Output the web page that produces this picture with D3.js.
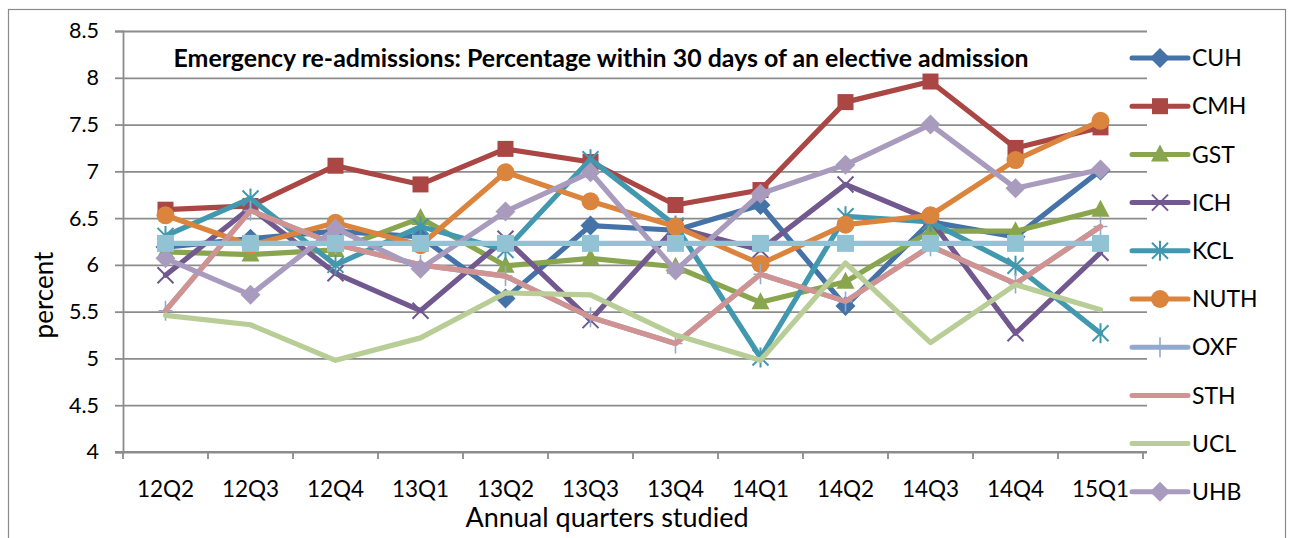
<!DOCTYPE html>
<html>
<head>
<meta charset="utf-8">
<script src="https://cdn.jsdelivr.net/npm/d3@7"></script>
<style>
  body { margin: 0; background: #fff; }
  svg { display: block; font-family: Lato, "Open Sans", sans-serif; }
</style>
</head>
<body>
<div class="gv-chart"></div>
<script>
// quarters on the x axis
var quarters = ["12Q2","12Q3","12Q4","13Q1","13Q2","13Q3","13Q4","14Q1","14Q2","14Q3","14Q4","15Q1"];

// percent re-admitted, one list per trust
var CUH  = [6.19, 6.28, 6.36, 6.30, 5.64, 6.42, 6.37, 6.64, 5.56, 6.46, 6.30, 7.01];
var CMH  = [6.59, 6.63, 7.06, 6.86, 7.24, 7.10, 6.64, 6.80, 7.74, 7.96, 7.25, 7.47];
var GST  = [6.14, 6.11, 6.16, 6.50, 5.99, 6.07, 5.98, 5.60, 5.82, 6.36, 6.36, 6.59];
var ICH  = [5.89, 6.61, 5.91, 5.51, 6.28, 5.41, 6.40, 6.16, 6.86, 6.48, 5.27, 6.13];
var KCL  = [6.31, 6.71, 6.00, 6.41, 6.16, 7.13, 6.42, 5.01, 6.52, 6.46, 5.99, 5.27];
var NUTH = [6.53, 6.21, 6.45, 6.21, 6.99, 6.68, 6.41, 6.01, 6.43, 6.53, 7.12, 7.54];
var OXF  = [5.51, 6.58, 6.22, 6.00, 5.88, 5.44, 5.16, 5.90, 5.61, 6.20, 5.80, 6.41];
var STH  = [5.51, 6.58, 6.22, 6.00, 5.88, 5.44, 5.16, 5.90, 5.61, 6.20, 5.80, 6.41];
var UCL  = [5.46, 5.36, 4.98, 5.22, 5.70, 5.68, 5.25, 4.98, 6.02, 5.17, 5.79, 5.52];
var UHB  = [6.07, 5.68, 6.39, 5.96, 6.57, 6.99, 5.94, 6.76, 7.07, 7.50, 6.82, 7.02];
var ALL  = [6.23, 6.23, 6.23, 6.23, 6.23, 6.23, 6.23, 6.23, 6.23, 6.23, 6.23, 6.23];

var yTicks = [4, 4.5, 5, 5.5, 6, 6.5, 7, 7.5, 8, 8.5];

var series = [
  {name: "CUH",  values: CUH,  color: "#4572A7", marker: "diamond",  legend: true},
  {name: "CMH",  values: CMH,  color: "#AA4643", marker: "square",   legend: true},
  {name: "GST",  values: GST,  color: "#89A54E", marker: "triangle", legend: true},
  {name: "ICH",  values: ICH,  color: "#71588F", marker: "x",        legend: true},
  {name: "KCL",  values: KCL,  color: "#4198AF", marker: "star",     legend: true},
  {name: "NUTH", values: NUTH, color: "#DB843D", marker: "circle",   legend: true},
  {name: "OXF",  values: OXF,  color: "#93A9CF", marker: "plus",     legend: true},
  {name: "STH",  values: STH,  color: "#D19392", marker: "none",     legend: true},
  {name: "UCL",  values: UCL,  color: "#B9CD96", marker: "none",     legend: true},
  {name: "UHB",  values: UHB,  color: "#A99BBD", marker: "diamond",  legend: true},
  {name: "",     values: ALL,  color: "#92C3D5", marker: "bigsquare", legend: false}
];

var W = 1291, H = 538;
var plot = {left: 123, right: 1143, top: 31, bottom: 452};

var svg = d3.select(".gv-chart").append("svg").attr("width", W).attr("height", H);

// chart border
svg.append("rect")
  .attr("x", 8.5).attr("y", 9.5).attr("width", 1277).attr("height", 560)
  .attr("fill", "none").attr("stroke", "#8a8a8a").attr("stroke-width", 1.2);

var xBand = d3.scaleBand().domain(quarters).range([plot.left, plot.right]);
var x = function(q) { return xBand(q) + xBand.bandwidth() / 2; };
var y = d3.scaleLinear().domain([4, 8.5]).range([plot.bottom, plot.top]);

var grid = "#8c8c8c";

// gridlines + y axis
var gy = svg.append("g").attr("class", "axis axis--y")
  .attr("transform", "translate(" + plot.left + ",0)")
  .call(d3.axisLeft(y).tickValues(yTicks).tickSize(8).tickPadding(16).tickFormat(d3.format("")));
gy.select(".domain").attr("stroke", grid).attr("stroke-width", 1.8);
gy.selectAll(".tick line").attr("stroke", grid).attr("stroke-width", 1.8);
gy.selectAll(".tick text").attr("font-size", 21.5).attr("fill", "#000").attr("font-family", "Lato");
gy.selectAll(".tick").append("line")
  .attr("x1", 0).attr("x2", plot.right + 4 - plot.left)
  .attr("stroke", grid).attr("stroke-width", 1.8);

// x axis with ticks between categories
var gx = svg.append("g").attr("class", "axis axis--x")
  .attr("transform", "translate(0," + plot.bottom + ")")
  .call(d3.axisBottom(xBand).tickSize(0).tickPadding(29));
gx.select(".domain").remove();
gx.selectAll(".tick text").attr("font-size", 22.5).attr("fill", "#000").attr("font-family", "Lato");
gx.append("line").attr("x1", plot.left - 8).attr("x2", plot.right + 4)
  .attr("stroke", grid).attr("stroke-width", 1.8);
gx.selectAll(".sep")
  .data(quarters.map(function(q) { return xBand(q); }).concat([plot.right]))
  .enter().append("line")
  .attr("x1", function(d) { return d; }).attr("x2", function(d) { return d; })
  .attr("y1", 0).attr("y2", 7)
  .attr("stroke", grid).attr("stroke-width", 1.8);

// titles
svg.append("text")
  .attr("x", 601).attr("y", 67)
  .attr("text-anchor", "middle").attr("font-weight", "bold").attr("font-size", 24)
  .attr("textLength", 855).attr("lengthAdjust", "spacingAndGlyphs")
  .text("Emergency re-admissions: Percentage within 30 days of an elective admission");

svg.append("text")
  .attr("transform", "translate(53,295) rotate(-90)")
  .attr("text-anchor", "middle").attr("font-size", 26)
  .text("percent");

svg.append("text")
  .attr("x", 607).attr("y", 527)
  .attr("text-anchor", "middle").attr("font-size", 27)
  .text("Annual quarters studied");

// marker drawing
function drawMarker(sel, type, color) {
  if (type == "diamond") {
    sel.append("path").attr("d", "M0,-10L10,0L0,10L-10,0Z").attr("fill", color);
  } else if (type == "square") {
    sel.append("rect").attr("x", -8).attr("y", -8).attr("width", 16).attr("height", 16).attr("fill", color);
  } else if (type == "bigsquare") {
    sel.append("rect").attr("x", -8.5).attr("y", -8.5).attr("width", 17).attr("height", 17).attr("fill", color);
  } else if (type == "triangle") {
    sel.append("path").attr("d", "M0,-10L9,7L-9,7Z").attr("fill", color);
  } else if (type == "circle") {
    sel.append("circle").attr("r", 9).attr("fill", color);
  } else if (type == "x") {
    sel.append("path").attr("d", "M-8,-8L8,8M-8,8L8,-8").attr("stroke", color).attr("stroke-width", 2);
  } else if (type == "star") {
    sel.append("path").attr("d", "M-8,-8L8,8M-8,8L8,-8M0,-10L0,10").attr("stroke", color).attr("stroke-width", 2);
  } else if (type == "plus") {
    sel.append("path").attr("d", "M-7,0L7,0M0,-10L0,10").attr("stroke", color).attr("stroke-width", 1.6);
  }
}

var line = d3.line()
  .x(function(d) { return x(d.q); })
  .y(function(d) { return y(d.v); });

series.forEach(function(s) {
  var pts = s.values.map(function(v, i) { return {q: quarters[i], v: v}; });
  var g = svg.append("g").attr("class", "series");
  g.append("path")
    .attr("d", line(pts))
    .attr("fill", "none").attr("stroke", s.color).attr("stroke-width", 5.2)
    .attr("stroke-linejoin", "round").attr("stroke-linecap", "round");
  g.selectAll(".mk").data(pts).enter().append("g")
    .attr("class", "mk")
    .attr("transform", function(d) { return "translate(" + x(d.q) + "," + y(d.v) + ")"; })
    .each(function() { drawMarker(d3.select(this), s.marker, s.color); });
});

// legend
var legendItems = series.filter(function(s) { return s.legend; });
var lg = svg.append("g").selectAll("g").data(legendItems).enter().append("g")
  .attr("transform", function(d, i) { return "translate(1132," + (58 + i * 48.2) + ")"; });
lg.append("line").attr("x1", 0).attr("x2", 56)
  .attr("stroke", function(d) { return d.color; }).attr("stroke-width", 5).attr("stroke-linecap", "round");
lg.append("g").attr("transform", "translate(28,0)")
  .each(function(d) { drawMarker(d3.select(this), d.marker, d.color); });
lg.append("text").attr("x", 60).attr("dy", "0.36em").attr("font-size", 23)
  .text(function(d) { return d.name; });
</script>
</body>
</html>
